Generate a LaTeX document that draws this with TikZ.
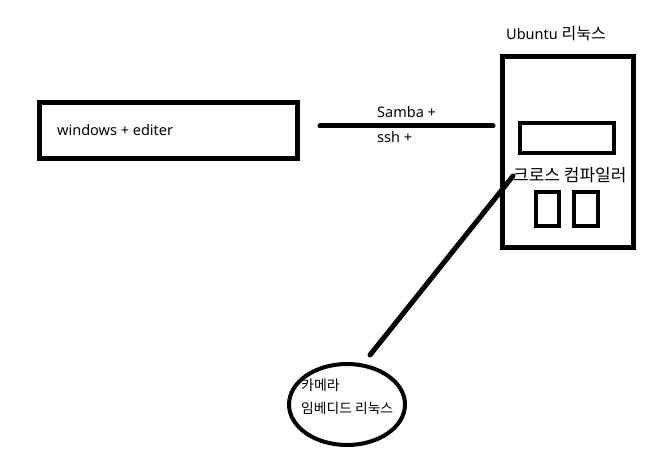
\documentclass[tikz,border=0pt]{standalone}
\usepackage{fontspec}
\setmainfont{Noto Sans}
\newfontfamily\kr{Noto Sans CJK KR}
\usetikzlibrary{shapes.geometric}
\newcommand{\hg}[2][15.5]{{\kr\fontsize{#1}{17}\selectfont #2}}

\begin{document}
\begin{tikzpicture}[x=1pt,y=-1pt,
    thickbox/.style={draw,line width=5pt,inner sep=0pt},
    thinbox/.style={draw,line width=4pt,inner sep=0pt},
    wire/.style={line width=5pt,line cap=round},
    lbl/.style={font=\fontsize{14.5}{16}\selectfont,inner sep=0pt,anchor=west}]
  \useasboundingbox (0,0) rectangle (669,468);
  % pc side: windows box, text starts a little inside
  \node[thickbox,minimum width=258pt,minimum height=55pt] (win) at (168.5,130.5) {};
  \node[lbl] (wintxt) at (57,130) {windows + editer};
  % ubuntu machine with its parts
  \node[lbl] (ubuntutxt) at (506,34) {Ubuntu \hg[16]{리눅스}};
  \node[thickbox,minimum width=131pt,minimum height=191pt] (ubuntu) at (568,152) {};
  \node[thinbox,minimum width=94pt,minimum height=30pt] (screen) at (567,138) {};
  \node[lbl] (cross) at (513,175) {\hg[17]{크로스 컴파일러}};
  \node[thinbox,minimum width=23pt,minimum height=34pt] (slotA) at (547.5,209) {};
  \node[thinbox,minimum width=24pt,minimum height=34pt] (slotB) at (586,209) {};
  % camera board
  \node[thinbox,ellipse,minimum width=116pt,minimum height=81pt] (cam) at (347,404.5) {};
  \node[lbl] (camtxt) at (301,385) {\hg[14]{카메라}};
  \node[lbl] (embtxt) at (301,408) {\hg[13.8]{임베디드 리눅스}};
  % links
  \coordinate (sambaL) at (320,126);
  \coordinate (sambaR) at (493,126);
  \draw[wire] (sambaL) -- (sambaR);
  \node[lbl] (samba) at (377,112) {Samba +};
  \node[lbl] (ssh) at (377,137) {ssh +};
  \coordinate (camtop) at (370,355);
  \draw[wire] (cross.west) ++(0,1) coordinate (crossend) (crossend) -- (camtop);
\end{tikzpicture}
\end{document}
